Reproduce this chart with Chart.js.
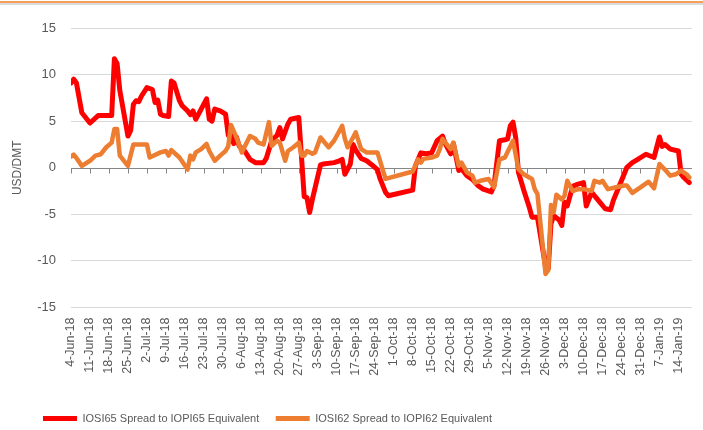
<!DOCTYPE html>
<html>
<head>
<meta charset="utf-8">
<script src="https://cdn.jsdelivr.net/npm/chart.js@4.4.1/dist/chart.umd.min.js"></script>
<style>
  html, body { margin: 0; padding: 0; background: #fff; }
  #wrap { position: relative; width: 703px; height: 430px; }
  #myChart { position: absolute; left: 0; top: 0; }
  .rule1 { position: absolute; left: 0; top: 1px; width: 703px; height: 2px; background: #f5a05a; }
  .rule2 { position: absolute; left: 0; top: 3px; width: 703px; height: 2px; background: #dadada; }
</style>
</head>
<body>
<div id="wrap">
  <canvas id="myChart" width="703" height="430"></canvas>
  <div class="rule1"></div>
  <div class="rule2"></div>
</div>
<script>
// weekly axis labels (one every 7 days from 4-Jun-18)
const tickLabels = ['4-Jun-18','11-Jun-18','18-Jun-18','25-Jun-18','2-Jul-18','9-Jul-18','16-Jul-18','23-Jul-18','30-Jul-18',
  '6-Aug-18','13-Aug-18','20-Aug-18','27-Aug-18','3-Sep-18','10-Sep-18','17-Sep-18','24-Sep-18','1-Oct-18','8-Oct-18',
  '15-Oct-18','22-Oct-18','29-Oct-18','5-Nov-18','12-Nov-18','19-Nov-18','26-Nov-18','3-Dec-18','10-Dec-18','17-Dec-18',
  '24-Dec-18','31-Dec-18','7-Jan-19','14-Jan-19'];

// IOSI65 spread, days counted from 4-Jun-18
const iosi65Days = [0,1,2,4,7,10,15,16,17,18,21,22,23,24,25,26,28,30,31,32,33,34,36,37,38,40,41,43,44,45,46,50,51,52,53,55,57,58,59,60,61,62,64,66,68,71,72,74,76,77,78,80,81,84,86,87,88,89,92,93,97,99,100,101,103,104,105,107,109,111,113,114,116,117,126,127,129,131,133,135,137,138,140,141,143,144,146,148,150,152,155,156,158,160,161,162,163,164,165,167,169,170,172,175,176,177,178,180,181,182,183,185,187,189,190,192,194,197,199,200,202,205,207,209,212,215,217,218,219,221,224,225,226,228];
const iosi65Values = [9.1,9.5,9.1,5.9,4.8,5.6,5.6,11.7,11.2,8.3,3.4,4.0,6.8,7.2,7.1,7.7,8.6,8.4,7.0,7.25,5.75,5.6,5.5,9.3,9.1,7.2,6.65,6.1,5.7,6.1,5.2,7.4,5.2,5.0,6.3,6.1,5.75,3.5,3.6,2.6,3.3,2.35,1.8,0.9,0.55,0.55,1.0,2.9,3.5,4.3,3.1,4.7,5.2,5.4,-3.1,-3.2,-4.8,-3.4,0.3,0.4,0.55,0.75,0.9,-0.7,0.4,2.5,1.9,1.0,0.75,0.3,-0.2,-1.2,-2.65,-3.0,-2.4,0.2,1.6,1.5,1.6,2.9,3.4,2.6,1.5,2.6,-0.3,-0.1,-0.85,-1.25,-1.9,-2.3,-2.6,-1.9,2.9,3.0,3.1,4.5,4.9,3.2,-0.5,-2.45,-4.25,-5.3,-5.3,-10.6,-10.8,-6.0,-5.15,-5.6,-6.2,-3.7,-4.1,-2.0,-1.75,-1.6,-4.1,-2.65,-3.35,-4.4,-4.5,-3.5,-2.1,0.05,0.55,0.9,1.45,1.1,3.3,2.3,2.5,2.0,1.8,-0.7,-1.05,-1.6];

// IOSI62 spread
const iosi62Days = [0,1,2,4,7,9,11,13,15,16,17,18,21,23,24,28,29,33,35,36,37,40,43,44,45,46,48,50,51,53,55,57,58,59,61,63,66,68,69,71,73,74,76,77,79,80,82,84,85,86,87,89,90,92,93,95,97,100,101,102,104,105,107,109,113,116,126,128,129,130,133,135,136,137,139,140,141,143,144,146,148,149,151,154,156,158,160,163,165,167,169,170,171,172,175,176,177,178,179,181,182,183,185,187,189,192,193,195,196,198,201,204,205,207,210,213,215,217,219,221,223,225,227,228];
const iosi62Values = [1.2,1.4,1.05,0.2,0.75,1.3,1.45,2.2,2.7,4.15,4.15,1.3,0.2,2.5,2.5,2.5,1.1,1.65,1.8,1.3,1.9,1.1,-0.2,1.3,0.9,1.65,2.0,2.55,1.8,0.75,1.3,1.8,2.3,4.6,3.25,1.65,3.4,3.1,2.7,2.5,4.9,2.35,2.9,2.7,0.75,1.8,2.2,2.7,1.3,1.3,1.8,1.5,1.65,3.25,2.9,2.2,2.9,4.5,3.1,2.2,3.25,3.8,2.0,1.65,1.65,-1.2,-0.4,0.9,0.55,0.95,1.1,1.3,2.0,3.1,2.35,2.0,2.7,0.2,0.55,-0.5,-0.85,-1.6,-1.4,-1.2,-2.1,0.9,1.1,2.9,-0.15,-0.7,-1.05,-1.2,-2.3,-2.8,-11.4,-11.0,-4.0,-4.8,-2.9,-3.4,-3.0,-1.4,-2.5,-2.3,-2.3,-2.5,-1.4,-1.6,-1.4,-2.3,-2.1,-1.9,-1.9,-2.7,-2.1,-1.5,-2.2,0.4,-0.2,-0.85,-0.7,-0.3,-0.7,-1.05];

const toPoints = (days, vals) => days.map((d, i) => ({x: d, y: vals[i]}));

const font = "'Liberation Sans', Arial, sans-serif";

// horizontal axis sits on zero with small tick marks hanging below it
const zeroAxis = {
  id: 'zeroAxis',
  beforeDatasetsDraw(chart) {
    const {ctx, chartArea, scales: {x, y}} = chart;
    const y0 = Math.round(y.getPixelForValue(0)) + 0.5;
    ctx.save();
    ctx.strokeStyle = '#868686';
    ctx.lineWidth = 1;
    ctx.beginPath();
    ctx.moveTo(chartArea.left, y0);
    ctx.lineTo(chartArea.right, y0);
    x.ticks.forEach(t => {
      const px = Math.round(x.getPixelForValue(t.value)) + 0.5;
      ctx.moveTo(px, y0);
      ctx.lineTo(px, y0 + 5);
    });
    ctx.stroke();
    ctx.restore();
  }
};

// nudge the legend row to where it sits in the original
const legendShift = {
  id: 'legendShift',
  afterLayout(chart) {
    const lg = chart.legend;
    lg.left += 26.5; lg.right += 26.5;
    lg.top += 9; lg.bottom += 9;
  }
};

const ctx = document.getElementById('myChart').getContext('2d');
new Chart(ctx, {
  type: 'line',
  data: {
    datasets: [{
      label: 'IOSI65 Spread to IOPI65 Equivalent',
      data: toPoints(iosi65Days, iosi65Values),
      borderColor: '#ff0000',
      backgroundColor: '#ff0000',
      borderWidth: 5,
      borderJoinStyle: 'round',
      borderCapStyle: 'round',
      pointRadius: 0,
      pointStyle: 'line',
      pointBorderWidth: 5,
      pointBorderColor: '#ff0000',
      tension: 0,
      order: 1
    }, {
      label: 'IOSI62 Spread to IOPI62 Equivalent',
      data: toPoints(iosi62Days, iosi62Values),
      borderColor: '#ed7d31',
      backgroundColor: '#ed7d31',
      borderWidth: 4.5,
      borderJoinStyle: 'round',
      borderCapStyle: 'round',
      pointRadius: 0,
      pointStyle: 'line',
      pointBorderWidth: 5,
      pointBorderColor: '#ed7d31',
      tension: 0,
      order: 0
    }]
  },
  options: {
    responsive: false,
    animation: false,
    layout: {padding: {left: 0, right: 11, top: 28, bottom: 5}},
    plugins: {
      tooltip: {enabled: false},
      legend: {
        position: 'bottom',
        align: 'start',
        labels: {
          usePointStyle: true,
          pointStyleWidth: 34,
          padding: 16.5,
          color: '#595959',
          font: {family: font, size: 11},
          sort: (a, b) => a.datasetIndex - b.datasetIndex
        }
      }
    },
    scales: {
      x: {
        type: 'linear',
        min: 0,
        max: 229,
        grid: {display: false},
        border: {display: false},
        ticks: {
          stepSize: 7,
          includeBounds: false,
          autoSkip: false,
          maxTicksLimit: 60,
          maxRotation: 90,
          minRotation: 90,
          crossAlign: 'center',
          padding: 2,
          color: '#595959',
          font: {family: font, size: 12.5},
          callback: v => tickLabels[Math.round(v / 7)]
        },
        afterFit(scale) { scale.height = 80; }
      },
      y: {
        min: -15,
        max: 15,
        border: {display: false},
        grid: {
          color: c => c.tick.value === 0 ? 'rgba(0,0,0,0)' : '#d9d9d9',
          drawTicks: false
        },
        ticks: {
          stepSize: 5,
          padding: 15,
          color: '#595959',
          font: {family: font, size: 13}
        },
        title: {
          display: true,
          text: 'USD/DMT',
          color: '#595959',
          font: {family: font, size: 12},
          padding: {top: 10, bottom: 0}
        },
        afterFit(scale) { scale.width = 71; }
      }
    }
  },
  plugins: [zeroAxis, legendShift]
});
</script>
</body>
</html>
